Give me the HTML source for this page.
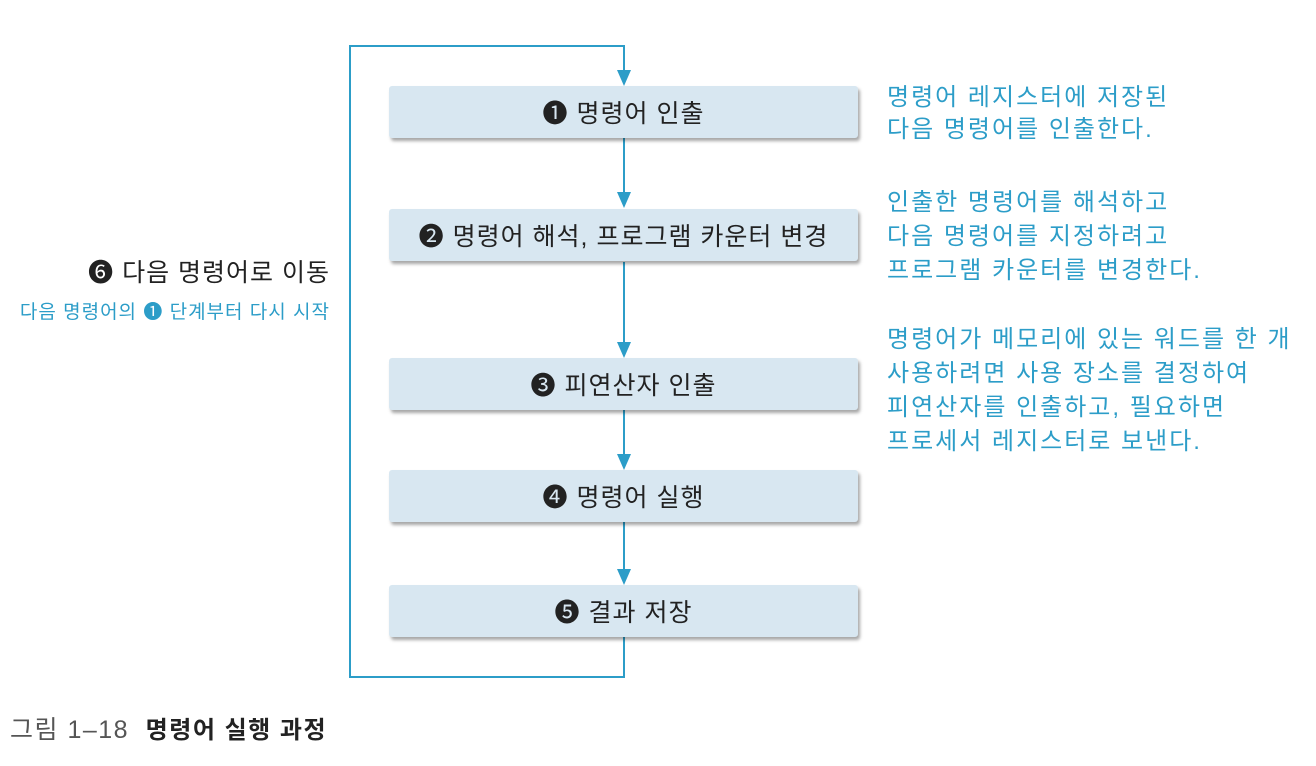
<!DOCTYPE html>
<html><head><meta charset="utf-8"><style>
body{margin:0;width:1316px;height:766px;background:#fff;position:relative;overflow:hidden;font-family:"Liberation Sans","Noto Sans CJK KR",sans-serif}
.box{position:absolute;left:389px;width:469px;height:52px;background:#d8e7f1;border-radius:3px;box-shadow:2px 3px 3px rgba(0,0,0,.35);display:flex;align-items:center;justify-content:center;font-size:25px;letter-spacing:1px;color:#222}
.t{position:absolute;color:#2c9dc8;font-size:24px;letter-spacing:2px;line-height:30px;white-space:nowrap}
</style></head><body>
<svg width="1316" height="766" style="position:absolute;left:0;top:0">
<g stroke="#2c9dc8" stroke-width="2" fill="none">
<polyline points="624,637 624,677 350,677 350,46 624,46 624,75"/>
<line x1="624" y1="138" x2="624" y2="196"/>
<line x1="624" y1="262" x2="624" y2="347"/>
<line x1="624" y1="410" x2="624" y2="459"/>
<line x1="624" y1="522" x2="624" y2="574"/>
</g>
<g fill="#2c9dc8">
<polygon points="617,70 631,70 624,86"/>
<polygon points="617,192 631,192 624,208"/>
<polygon points="617,342 631,342 624,358"/>
<polygon points="617,454 631,454 624,470"/>
<polygon points="617,569 631,569 624,585"/>
</g>
</svg>
<div class="box" style="top:86px">❶ 명령어 인출</div>
<div class="box" style="top:209px">❷ 명령어 해석, 프로그램 카운터 변경</div>
<div class="box" style="top:358px">❸ 피연산자 인출</div>
<div class="box" style="top:470px">❹ 명령어 실행</div>
<div class="box" style="top:585px">❺ 결과 저장</div>
<div class="t" style="left:887px;top:82px;line-height:32px">명령어 레지스터에 저장된<br>다음 명령어를 인출한다.</div>
<div class="t" style="left:887px;top:186px;line-height:34px">인출한 명령어를 해석하고<br>다음 명령어를 지정하려고<br>프로그램 카운터를 변경한다.</div>
<div class="t" style="left:887px;top:323px;line-height:34px">명령어가 메모리에 있는 워드를 한 개<br>사용하려면 사용 장소를 결정하여<br>피연산자를 인출하고, 필요하면<br>프로세서 레지스터로 보낸다.</div>
<div style="position:absolute;right:986px;top:253px;font-size:25px;letter-spacing:1px;color:#222;white-space:nowrap">❻ 다음 명령어로 이동</div>
<div style="position:absolute;right:986px;top:297px;font-size:19px;letter-spacing:1px;color:#2c9dc8;white-space:nowrap">다음 명령어의 ❶ 단계부터 다시 시작</div>
<div style="position:absolute;left:10px;top:710px;font-size:25px;letter-spacing:1.5px;color:#555;white-space:nowrap">그림 1–18 <b style="color:#222;font-size:24px">&nbsp;명령어 실행 과정</b></div>
</body></html>
